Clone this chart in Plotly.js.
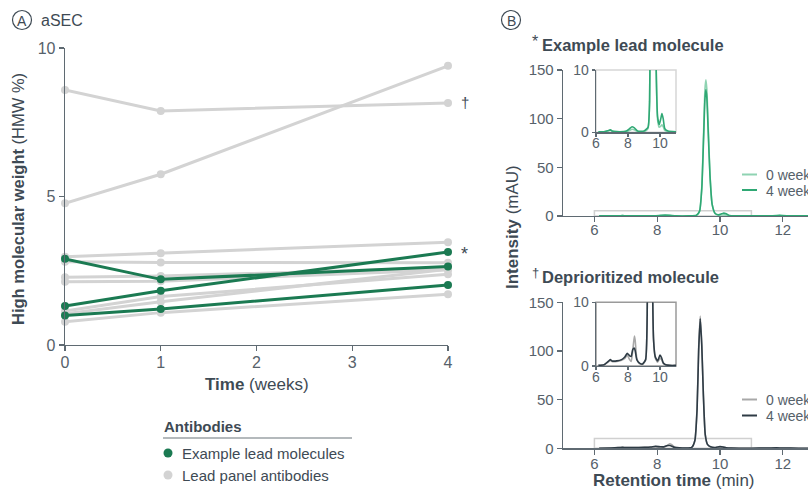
<!DOCTYPE html>
<html>
<head>
<meta charset="utf-8">
<script src="https://cdn.plot.ly/plotly-3.0.1.min.js"></script>
<style>
html, body { margin: 0; padding: 0; width: 808px; height: 489px; overflow: hidden; background: #fff; }
#chart { width: 830px; height: 489px; }
</style>
</head>
<body>
<div id="chart"></div>
<script>
// ---------- Panel A data (aSEC, HMW %) ----------
const weeks = [0, 1, 4];
const weekTicks = [0, 1, 2, 3, 4];
const hmwTicks = [0, 5, 10];

// Example lead molecules (green)
const leadA = [2.90, 2.21, 2.64];
const leadStar = [1.31, 1.83, 3.13];   // marked *
const leadC = [0.99, 1.21, 2.02];

// Lead panel antibodies (gray)
const panelDagger = [8.59, 7.88, 8.15]; // marked †
const panel2 = [4.77, 5.75, 9.40];
const panel3 = [2.97, 3.09, 3.46];
const panel4 = [2.80, 2.78, 2.77];
const panel5 = [2.28, 2.32, 2.60];
const panel6 = [2.13, 2.15, 2.53];
const panel7 = [1.14, 1.63, 2.38];
const panel8 = [0.78, 1.09, 1.71];
const panel9 = [1.05, 1.46, 2.55];

// ---------- Panel B data (chromatograms, mAU vs min) ----------
const rtLead = [6.15, 6.5, 6.8, 6.9, 7.0, 7.5, 7.9, 8.1, 8.25, 8.4, 8.6, 9.0, 9.25, 9.35, 9.42, 9.48, 9.52, 9.55, 9.58, 9.62, 9.68, 9.75, 9.85, 9.95, 10.05, 10.12, 10.2, 10.3, 10.5, 11.0, 11.5, 11.8, 11.9, 12.0, 12.3, 13.0, 13.5];
const lead0wk = [0.1, 0.1, 0.3, 0.4, 0.2, 0.1, 0.1, 0.3, 0.5, 0.4, 0.1, 0.1, 0.6, 5, 30, 88, 130, 140, 131, 96, 44, 12, 2, 0.8, 1.0, 1.2, 0.9, 0.3, 0.1, 0.1, 0.1, 0.3, 0.5, 0.3, 0.1, 0.1, 0.1];
const lead4wk = [0.1, 0.1, 0.3, 0.4, 0.2, 0.1, 0.2, 0.6, 0.9, 0.7, 0.2, 0.2, 0.8, 5, 28, 82, 120, 130, 122, 90, 42, 12, 2.5, 1.2, 2.2, 3.0, 2.2, 0.6, 0.2, 0.1, 0.1, 0.4, 0.7, 0.4, 0.1, 0.1, 0.1];

const rtDep = [6.15, 6.5, 6.8, 6.9, 7.0, 7.3, 7.6, 7.8, 7.95, 8.1, 8.2, 8.3, 8.4, 8.45, 8.55, 8.7, 8.9, 9.1, 9.2, 9.27, 9.32, 9.37, 9.42, 9.47, 9.53, 9.6, 9.7, 9.85, 10.0, 10.1, 10.2, 10.35, 10.6, 11.0, 11.5, 11.8, 12.0, 12.5, 13.0, 13.5];
const dep0wk = [0.1, 0.2, 0.7, 0.9, 0.7, 0.7, 0.9, 1.2, 1.7, 1.0, 0.7, 2.5, 4.7, 4.0, 1.2, 0.4, 0.2, 0.9, 8, 42, 103, 136, 107, 56, 14, 4, 1.3, 0.6, 1.2, 1.0, 0.4, 0.2, 0.1, 0.1, 0.2, 0.4, 0.2, 0.1, 0.1, 0.1];
const dep4wk = [0.1, 0.2, 0.8, 1.0, 0.8, 0.8, 1.0, 1.4, 2.0, 1.6, 1.5, 2.6, 2.8, 2.4, 1.0, 0.5, 0.3, 1.0, 8, 40, 100, 133, 105, 55, 14, 4, 1.5, 0.8, 1.7, 1.3, 0.5, 0.2, 0.1, 0.1, 0.2, 0.5, 0.2, 0.1, 0.1, 0.1];

const mainTicksX = [6, 8, 10, 12];
const mainTicksY = [0, 50, 100, 150];
const insetTicksX = [6, 8, 10];
const insetTicksY = [0, 10];

// ---------- styling / layout helpers ----------
const W = 830, H = 489;
const px = v => v / W;
const py = v => 1 - v / H;
const FONT = 'Liberation Sans, Arial, sans-serif';
const TXT = '#3e4a54';
const TICK = '#56616a';
const AX = '#5f6a72';
const GREEN = '#1b7a52';
const GRAY = '#d3d3d3';
const L0 = '#8fd3b2', L4 = '#2fa874';
const D0 = '#a8a8a8', D4 = '#2e3b45';

const traces = [];
const grays = [panelDagger, panel2, panel3, panel4, panel5, panel6, panel7, panel8, panel9];
const greens = [leadA, leadStar, leadC];
grays.forEach(s => traces.push({x: weeks, y: s, mode: 'lines+markers', type: 'scatter', xaxis: 'x', yaxis: 'y',
  line: {color: GRAY, width: 3}, marker: {color: GRAY, size: 8}, showlegend: false, cliponaxis: false, hoverinfo: 'skip'}));
greens.forEach(s => traces.push({x: weeks, y: s, mode: 'lines+markers', type: 'scatter', xaxis: 'x', yaxis: 'y',
  line: {color: GREEN, width: 3}, marker: {color: GREEN, size: 8}, showlegend: false, cliponaxis: false, hoverinfo: 'skip'}));

function chrom(x, y, color, xa, ya) {
  return {x: x, y: y, mode: 'lines', type: 'scatter', xaxis: xa, yaxis: ya,
    line: {color: color, width: 1.6, shape: 'spline', smoothing: 0.5}, showlegend: false, hoverinfo: 'skip'};
}
traces.push(chrom(rtLead, lead0wk, L0, 'x2', 'y2'));
traces.push(chrom(rtLead, lead4wk, L4, 'x2', 'y2'));
traces.push(chrom(rtLead, lead0wk, L0, 'x3', 'y3'));
traces.push(chrom(rtLead, lead4wk, L4, 'x3', 'y3'));
traces.push(chrom(rtDep, dep0wk, D0, 'x4', 'y4'));
traces.push(chrom(rtDep, dep4wk, D4, 'x4', 'y4'));
traces.push(chrom(rtDep, dep0wk, D0, 'x5', 'y5'));
traces.push(chrom(rtDep, dep4wk, D4, 'x5', 'y5'));

function axis(domain, range, tickvals, anchor, extra) {
  return Object.assign({domain: domain, range: range, tickvals: tickvals, anchor: anchor,
    showgrid: false, zeroline: false, showline: true, linecolor: AX, linewidth: 1.3,
    ticks: 'outside', ticklen: 5, tickcolor: AX, tickwidth: 1.2,
    tickfont: {family: FONT, size: 15, color: TICK}, fixedrange: true}, extra || {});
}
const insetFont = {family: FONT, size: 14, color: TICK};

const mainX0 = 563;
const pxPerMin = 31.4;
const mainRange = [5, 5 + (W - mainX0) / pxPerMin];

const layout = {
  width: W, height: H,
  margin: {l: 0, r: 0, t: 0, b: 0},
  paper_bgcolor: '#fff', plot_bgcolor: 'rgba(0,0,0,0)',
  showlegend: false,
  font: {family: FONT, color: TXT},
  xaxis: axis([px(65), px(448)], [0, 4], weekTicks, 'y', {tickfont: {family: FONT, size: 16, color: TICK}, ticklabelstandoff: -3}),
  yaxis: axis([py(345), py(48)], [0, 10], hmwTicks, 'x', {tickfont: {family: FONT, size: 16, color: TICK}}),
  xaxis2: axis([px(mainX0), 1], mainRange, mainTicksX, 'y2', {ticklabelstandoff: -5}),
  yaxis2: axis([py(216), py(70)], [0, 150], mainTicksY, 'x2'),
  xaxis3: axis([px(596), px(676)], [6, 11], insetTicksX, 'y3', {ticklen: 3, tickfont: insetFont, ticklabelstandoff: -5}),
  yaxis3: axis([py(132.3), py(70)], [0, 10], insetTicksY, 'x3', {ticklen: 3, tickfont: insetFont}),
  xaxis4: axis([px(mainX0), 1], mainRange, mainTicksX, 'y4', {ticklabelstandoff: -4}),
  yaxis4: axis([py(448.3), py(302.3)], [0, 150], mainTicksY, 'x4'),
  xaxis5: axis([px(596), px(676)], [6, 11], insetTicksX, 'y5', {ticklen: 3, tickfont: insetFont, ticklabelstandoff: -5}),
  yaxis5: axis([py(366), py(302.3)], [0, 10], insetTicksY, 'x5', {ticklen: 3, tickfont: insetFont}),
  shapes: [
    {type: 'rect', xref: 'x2', yref: 'y2', x0: 6, x1: 11, y0: 0, y1: 5.5, line: {color: '#d0d0d0', width: 1.5}, layer: 'below'},
    {type: 'rect', xref: 'x4', yref: 'y4', x0: 6, x1: 11, y0: 0, y1: 10, line: {color: '#d0d0d0', width: 1.5}, layer: 'below'},
    {type: 'rect', xref: 'x3 domain', yref: 'y3 domain', x0: 0, x1: 1, y0: 0, y1: 1, line: {color: '#d6d6d6', width: 1.5}, layer: 'below'},
    {type: 'rect', xref: 'x5 domain', yref: 'y5 domain', x0: 0, x1: 1, y0: 0, y1: 1, line: {color: '#9a9a9a', width: 1.5}, layer: 'below'},
    {type: 'circle', xref: 'paper', yref: 'paper', x0: px(12.5), x1: px(31.5), y0: py(29.5), y1: py(10.5), line: {color: TXT, width: 1.2}},
    {type: 'circle', xref: 'paper', yref: 'paper', x0: px(501.5), x1: px(520.5), y0: py(29.5), y1: py(10.5), line: {color: TXT, width: 1.2}},
    {type: 'line', xref: 'paper', yref: 'paper', x0: px(163), x1: px(352), y0: py(438), y1: py(438), line: {color: '#6b747b', width: 1.2}},
    {type: 'circle', xref: 'paper', yref: 'paper', x0: px(163.5), x1: px(172.5), y0: py(457.5), y1: py(448.5), fillcolor: GREEN, line: {width: 0}},
    {type: 'circle', xref: 'paper', yref: 'paper', x0: px(163.5), x1: px(172.5), y0: py(479.5), y1: py(470.5), fillcolor: GRAY, line: {width: 0}},
    {type: 'line', xref: 'paper', yref: 'paper', x0: px(742), x1: px(757), y0: py(174.5), y1: py(174.5), line: {color: L0, width: 2}},
    {type: 'line', xref: 'paper', yref: 'paper', x0: px(742), x1: px(757), y0: py(190), y1: py(190), line: {color: L4, width: 2}},
    {type: 'line', xref: 'paper', yref: 'paper', x0: px(742), x1: px(757), y0: py(399.5), y1: py(399.5), line: {color: D0, width: 2}},
    {type: 'line', xref: 'paper', yref: 'paper', x0: px(742), x1: px(757), y0: py(415.5), y1: py(415.5), line: {color: D4, width: 2}}
  ],
  annotations: []
};

function ann(text, x, y, opts) {
  layout.annotations.push(Object.assign({text: text, xref: 'paper', yref: 'paper', x: px(x), y: py(y),
    xanchor: 'left', yanchor: 'middle', showarrow: false, font: {family: FONT, size: 16, color: TXT}}, opts || {}));
}
ann('A', 22, 20.5, {xanchor: 'center', font: {family: FONT, size: 14, color: TXT}});
ann('aSEC', 39, 20, {font: {family: FONT, size: 16, color: TXT}});
ann('B', 511, 20.5, {xanchor: 'center', font: {family: FONT, size: 14, color: TXT}});
ann('<b>High molecular weight</b> (HMW %)', 18, 199, {xanchor: 'center', textangle: -90, font: {family: FONT, size: 16.5, color: TXT}});
ann('<b>Time</b> (weeks)', 257, 384, {xanchor: 'center', font: {family: FONT, size: 17, color: TXT}});
ann('†', 459, 103, {font: {family: FONT, size: 15, color: TXT}});
ann('*', 459, 254, {font: {family: FONT, size: 18, color: TXT}});
ann('<b>Antibodies</b>', 162, 426, {font: {family: FONT, size: 15, color: TXT}});
ann('Example lead molecules', 180, 453, {font: {family: FONT, size: 15, color: TXT}});
ann('Lead panel antibodies', 180, 475, {font: {family: FONT, size: 15, color: TXT}});
ann('*', 530, 41, {font: {family: FONT, size: 16, color: TXT}});
ann('<b>Example lead molecule</b>', 540, 45, {font: {family: FONT, size: 16.5, color: TXT}});
ann('†', 530, 272, {font: {family: FONT, size: 13, color: TXT}});
ann('<b>Deprioritized molecule</b>', 540, 277, {font: {family: FONT, size: 16.5, color: TXT}});
ann('<b>Intensity</b> (mAU)', 512, 227, {xanchor: 'center', textangle: -90, font: {family: FONT, size: 17, color: TXT}});
ann('<b>Retention time</b> (min)', 674, 480, {xanchor: 'center', font: {family: FONT, size: 17, color: TXT}});
ann('0 weeks', 764, 175, {font: {family: FONT, size: 14, color: TICK}});
ann('4 weeks', 764, 191, {font: {family: FONT, size: 14, color: TICK}});
ann('0 weeks', 764, 400, {font: {family: FONT, size: 14, color: TICK}});
ann('4 weeks', 764, 416, {font: {family: FONT, size: 14, color: TICK}});

Plotly.newPlot('chart', traces, layout, {staticPlot: true, displayModeBar: false});
</script>
</body>
</html>
